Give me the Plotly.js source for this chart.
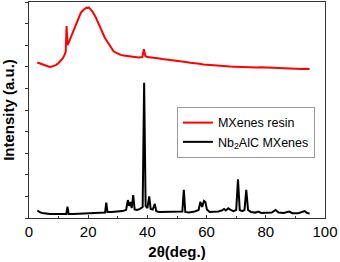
<!DOCTYPE html>
<html><head><meta charset="utf-8">
<script src="https://cdn.plot.ly/plotly-3.0.1.min.js"></script>
<style>html,body{margin:0;padding:0;background:#fff}</style>
</head><body><div id="chart" style="width:340px;height:262px"></div>
<script>
const resinX = [2.8,3.4,4,4.7,5.5,6.2,7,7.7,8.5,9.2,10,10.8,11.5,12,12.4,12.7,13.0,13.5,14,14.5,15,15.5,16,16.5,17,17.5,18,18.5,19,19.4,19.8,20.2,20.5,21,21.5,22,22.5,23,23.5,24,24.5,25,25.5,26.0,26.5,27,27.5,28,28.5,29,29.5,30,31,32,33,34,35,36,37,37.7,38.3,38.8,39.3,40,41,42,43.5,45,46.5,48,49,50,51.5,53,54.5,56,57.5,59,60.5,62,63.5,65,66.5,68,69.5,71,72.5,74,75.5,77,78.5,80,81.5,83,84.5,86,87.5,89,90.5,92,93.5,94.8];
const resinY = [7.20,7.17,7.15,7.12,7.08,7.04,6.99,7.01,7.04,7.09,7.18,7.28,7.41,7.55,7.69,8.89,8.01,8.15,8.33,8.47,8.66,8.82,9.03,9.20,9.35,9.50,9.58,9.66,9.70,9.74,9.72,9.75,9.68,9.62,9.54,9.44,9.31,9.15,8.98,8.83,8.66,8.52,8.38,8.26,8.15,8.02,7.92,7.82,7.73,7.68,7.64,7.60,7.55,7.52,7.50,7.47,7.45,7.46,7.43,7.44,7.45,7.82,7.50,7.45,7.44,7.43,7.40,7.36,7.34,7.31,7.30,7.27,7.25,7.22,7.19,7.15,7.14,7.11,7.09,7.06,7.07,7.04,7.02,7.01,7.00,6.99,7.00,6.99,6.98,6.97,6.98,6.97,6.95,6.94,6.95,6.94,6.93,6.92,6.92,6.90,6.91,6.90];
const nbX = [2.8,3.2,3.8,4.5,5.5,7,9,11,12.6,13.0,13.4,15,17,19,21,23,25,25.7,26.1,26.5,28,30,31.5,32.8,33.4,33.8,34.3,34.7,35.2,35.7,36.5,37.5,38.4,38.9,39.4,40.0,40.6,41.1,41.8,42.5,43.0,44,46,48,50,51.8,52.3,52.8,54,56,57.3,57.9,58.5,59.1,59.6,60.1,61,62.5,64,65.2,65.9,66.5,67.3,68,69,70.0,70.6,71.2,72,72.8,73.4,74.0,75,76.5,77.4,78.5,80,82,83.3,84.3,86,87.9,89,91,93.1,94,94.8];
const nbY = [0.34,0.30,0.26,0.23,0.20,0.19,0.19,0.19,0.19,0.52,0.19,0.19,0.20,0.21,0.22,0.23,0.25,0.25,0.71,0.28,0.28,0.29,0.32,0.37,0.83,0.56,0.74,0.46,1.06,0.40,0.37,0.42,0.51,6.26,0.56,0.46,1.00,0.42,0.39,0.65,0.32,0.28,0.28,0.27,0.28,0.30,1.30,0.28,0.26,0.30,0.37,0.75,0.51,0.79,0.74,0.39,0.28,0.28,0.30,0.35,0.42,0.35,0.45,0.39,0.32,0.37,1.79,0.37,0.32,0.37,1.30,0.37,0.28,0.25,0.30,0.23,0.23,0.25,0.37,0.25,0.23,0.30,0.22,0.22,0.32,0.23,0.21];
const xTicks = [0,20,40,60,80,100];

const font = 'Liberation Sans, Arial, sans-serif';
const traces = [
  {x: resinX, y: resinY, type:'scatter', mode:'lines', name:'MXenes resin', line:{color:'#ff0000', width:2}},
  {x: nbX, y: nbY, type:'scatter', mode:'lines', name:'Nb<sub>2</sub>AlC MXenes', line:{color:'#000000', width:2}}
];
const layout = {
  width:340, height:262,
  margin:{l:29, r:15, t:2, b:44},
  paper_bgcolor:'#fff', plot_bgcolor:'#fff',
  font:{family:font, color:'#000'},
  showlegend:true,
  legend:{x:0.966, y:0.514, xanchor:'right', yanchor:'top', bgcolor:'#fff', bordercolor:'#999', borderwidth:1, font:{size:12.5, family:font, color:'#000'}, tracegroupgap:0, itemwidth:30},
  xaxis:{range:[0,100], tickvals:xTicks, ticktext:xTicks.map(String), ticks:'inside', ticklen:3, tickcolor:'#333',
    minor:{dtick:10, tick0:0, ticks:'inside', ticklen:2, tickcolor:'#333'},
    showline:true, mirror:true, linecolor:'#333', linewidth:1, showgrid:false, zeroline:false,
    tickfont:{size:15, family:font, color:'#000'},
    title:{text:'<b>2θ(deg.)</b>', font:{size:15, family:font, color:'#000'}, standoff:7}},
  yaxis:{range:[0,10], dtick:1, tick0:0, ticks:'outside', ticklen:3, tickcolor:'#333', showticklabels:false,
    showline:true, mirror:true, linecolor:'#333', linewidth:1, showgrid:false, zeroline:false,
    title:{text:'<b>Intensity (a.u.)</b>', font:{size:15, family:font, color:'#000'}, standoff:8}}
};
Plotly.newPlot('chart', traces, layout, {staticPlot:true, displayModeBar:false});
</script></body></html>
